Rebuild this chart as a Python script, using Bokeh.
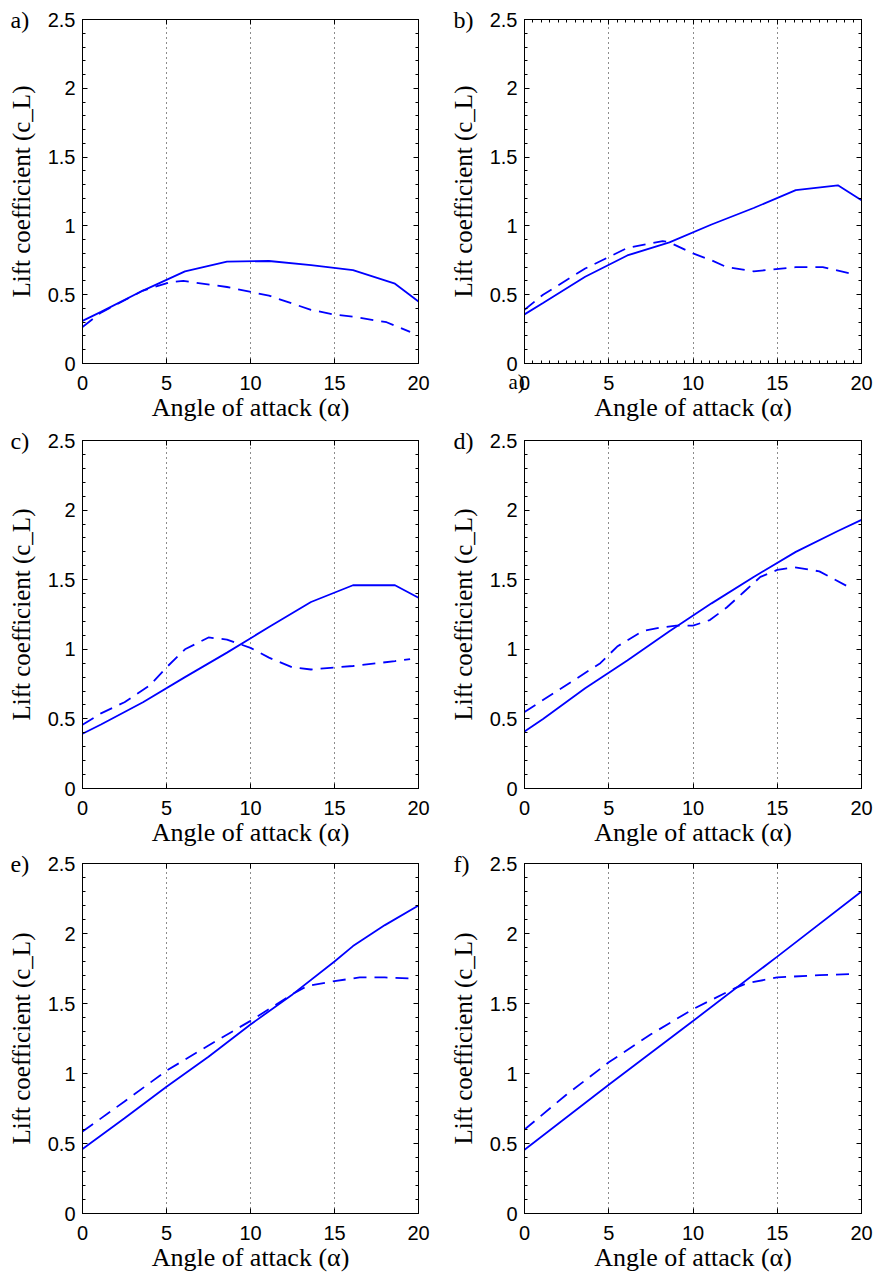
from bokeh.plotting import figure
from bokeh.layouts import column, row
from bokeh.models import Range1d, LinearAxis, SingleIntervalTicker, Title
from bokeh.embed import file_html
from bokeh.resources import INLINE

# ---------------- data ----------------
PANEL_LABELS = ["a)", "b)", "c)", "d)", "e)", "f)"]
X_LABEL = "Angle of attack (\u03b1)"
Y_LABEL = "Lift coefficient (c_L)"
Y_TICKS = [0, 0.5, 1, 1.5, 2, 2.5]
Y_TICK_LABELS = ["0", "0.5", "1", "1.5", "2", "2.5"]
STRAY_LABEL = "a)"   # stray panel letter printed under panel b's first tick

ALPHA = [0, 1.1, 3.6, 6.1, 8.6, 11.1, 13.6, 16.1, 18.6, 20]

A_SOLID = [0.31, 0.375, 0.53, 0.67, 0.74, 0.745, 0.715, 0.678, 0.58, 0.45]
A_DASH_X = [0, 1.1, 3.6, 5.2, 6.0, 8.6, 11.1, 13.6, 15.0, 16.1, 18.1, 19.5]
A_DASH = [0.265, 0.37, 0.53, 0.59, 0.60, 0.556, 0.493, 0.39, 0.355, 0.34, 0.30, 0.23]

B_SOLID = [0.357, 0.44, 0.63, 0.785, 0.88, 1.01, 1.13, 1.26, 1.295, 1.186]
B_DASH_X = [0, 1.1, 3.6, 6.1, 8.2, 8.6, 10, 11.1, 12.0, 13.6, 16.1, 17.7, 19.3]
B_DASH = [0.39, 0.50, 0.69, 0.84, 0.89, 0.88, 0.80, 0.75, 0.70, 0.67, 0.70, 0.70, 0.655]

C_SOLID = [0.393, 0.46, 0.62, 0.80, 0.976, 1.16, 1.34, 1.46, 1.46, 1.37]
C_DASH_X = [0, 1.1, 2.5, 4.0, 5.0, 6.1, 7.5, 8.6, 10, 11.1, 12.5, 13.6, 16.1, 18.6, 19.5]
C_DASH = [0.458, 0.54, 0.62, 0.74, 0.87, 1.0, 1.085, 1.07, 1.01, 0.94, 0.87, 0.855, 0.88, 0.915, 0.93]

D_SOLID = [0.41, 0.50, 0.72, 0.92, 1.13, 1.33, 1.52, 1.70, 1.85, 1.93]
D_DASH_X = [0, 4.5, 5.5, 7, 8, 9, 10, 11, 12, 13, 14, 15, 16, 17.5, 19.2]
D_DASH = [0.55, 0.90, 1.02, 1.13, 1.155, 1.17, 1.17, 1.21, 1.30, 1.41, 1.52, 1.57, 1.59, 1.56, 1.45]

E_SOLID_X = [0, 2.5, 5, 7.5, 10, 12.5, 15, 16.1, 18, 20]
E_SOLID = [0.46, 0.68, 0.905, 1.12, 1.35, 1.565, 1.80, 1.91, 2.06, 2.20]
E_DASH_X = [0, 2.5, 5, 7.5, 10, 12.5, 13.4, 15, 16.5, 18, 19.4]
E_DASH = [0.585, 0.80, 1.02, 1.20, 1.376, 1.567, 1.626, 1.66, 1.686, 1.686, 1.68]

F_SOLID_X = [0, 5, 10, 15, 20]
F_SOLID = [0.455, 0.92, 1.375, 1.835, 2.30]
F_DASH_X = [0, 2.5, 5, 7.5, 10, 12.5, 13.2, 15, 17.5, 19.4]
F_DASH = [0.60, 0.85, 1.08, 1.28, 1.46, 1.61, 1.645, 1.686, 1.703, 1.71]

# ---------------- style / layout ----------------
BLUE = "#0000ff"
SANS = "Liberation Sans"
SERIF = "Liberation Serif"

COLS = [dict(left=82, right=21, fw=336, lab_dx=-72),
        dict(left=85, right=15, fw=337, lab_dx=-71)]
ROWS = [dict(top=19, bottom=65, fh=344),
        dict(top=12, bottom=62, fh=348),
        dict(top=13, bottom=58, fh=350)]


def style_axis(ax, ticker, show_labels):
    ax.ticker = ticker
    ax.axis_line_color = "black"
    ax.axis_line_width = 1
    ax.major_tick_in = 5
    ax.major_tick_out = 0
    ax.minor_tick_in = 3
    ax.minor_tick_out = 0
    ax.major_tick_line_color = "black"
    ax.minor_tick_line_color = "black"
    if not show_labels:
        ax.major_label_text_font_size = "0px"
        ax.major_label_text_color = None
        ax.major_label_standoff = 0


def flat_title(text, dx, size, valign):
    # a title whose panel takes no room, so it sits on the frame's edge
    return Title(text=text, align="left", offset=dx, standoff=-60,
                 vertical_align=valign, text_font=SERIF,
                 text_font_size=size, text_font_style="normal",
                 text_color="black")


def make_panel(idx, xs, ys, xd, yd, minor_x=False, stray=None):
    c = COLS[idx % 2]
    r = ROWS[idx // 2]
    p = figure(frame_width=c["fw"], frame_height=r["fh"],
               min_border_left=c["left"], min_border_right=c["right"],
               min_border_top=r["top"], min_border_bottom=r["bottom"],
               x_range=Range1d(0, 20), y_range=Range1d(0, 2.5),
               x_axis_location=None,
               output_backend="svg", toolbar_location=None,
               background_fill_color="white", border_fill_color="white")
    p.outline_line_color = "black"
    p.outline_line_width = 1

    nmx = 10 if minor_x else 0
    xt = lambda: SingleIntervalTicker(interval=5, num_minor_ticks=nmx)
    yt = lambda: SingleIntervalTicker(interval=0.5, num_minor_ticks=5)

    # stray letter under the first x tick (panel b only), nearest the frame
    if stray:
        p.add_layout(flat_title(stray, -16, "21px", "bottom"), "below")

    # bottom axis
    xax = LinearAxis()
    style_axis(xax, xt(), True)
    p.add_layout(xax, "below")
    yax = p.yaxis[0]
    style_axis(yax, yt(), True)
    for ax in (xax, yax):
        ax.major_label_text_font = SANS
        ax.major_label_text_font_size = "20px"
        ax.major_label_text_color = "black"
        ax.axis_label_text_font = SERIF
        ax.axis_label_text_font_style = "normal"
        ax.axis_label_text_color = "black"
    xax.axis_label = X_LABEL
    yax.axis_label = Y_LABEL
    xax.axis_label_text_font_size = "26px"
    yax.axis_label_text_font_size = "25px"
    xax.major_label_standoff = 12
    xax.axis_label_standoff = 0
    yax.major_label_standoff = 7
    yax.axis_label_standoff = 10
    yax.major_label_overrides = {float(t): s for t, s in zip(Y_TICKS, Y_TICK_LABELS)}

    # top / right axes (ticks only)
    top = LinearAxis()
    style_axis(top, xt(), False)
    p.add_layout(top, "above")
    right = LinearAxis()
    style_axis(right, yt(), False)
    p.add_layout(right, "right")

    # panel letter straddling the frame's top edge
    p.add_layout(flat_title(PANEL_LABELS[idx], c["lab_dx"], "24px", "middle"), "above")

    # grid: vertical dotted lines only
    p.ygrid.grid_line_color = None
    p.xgrid.ticker = SingleIntervalTicker(interval=5)
    p.xgrid.grid_line_color = "black"
    p.xgrid.grid_line_width = 1
    p.xgrid.grid_line_dash = "1 4"
    p.xgrid.grid_line_alpha = 0.9

    p.line(xs, ys, line_color=BLUE, line_width=1.8)
    p.line(xd, yd, line_color=BLUE, line_width=1.8, line_dash="13 8")
    return p


pa = make_panel(0, ALPHA, A_SOLID, A_DASH_X, A_DASH)
pb = make_panel(1, ALPHA, B_SOLID, B_DASH_X, B_DASH, minor_x=True, stray=STRAY_LABEL)
pc = make_panel(2, ALPHA, C_SOLID, C_DASH_X, C_DASH)
pd = make_panel(3, ALPHA, D_SOLID, D_DASH_X, D_DASH)
pe = make_panel(4, E_SOLID_X, E_SOLID, E_DASH_X, E_DASH)
pf = make_panel(5, F_SOLID_X, F_SOLID, F_DASH_X, F_DASH)

layout = column(row(pa, pb, spacing=0), row(pc, pd, spacing=0), row(pe, pf, spacing=0), spacing=0)
open("out.html", "w").write(file_html(layout, INLINE))
